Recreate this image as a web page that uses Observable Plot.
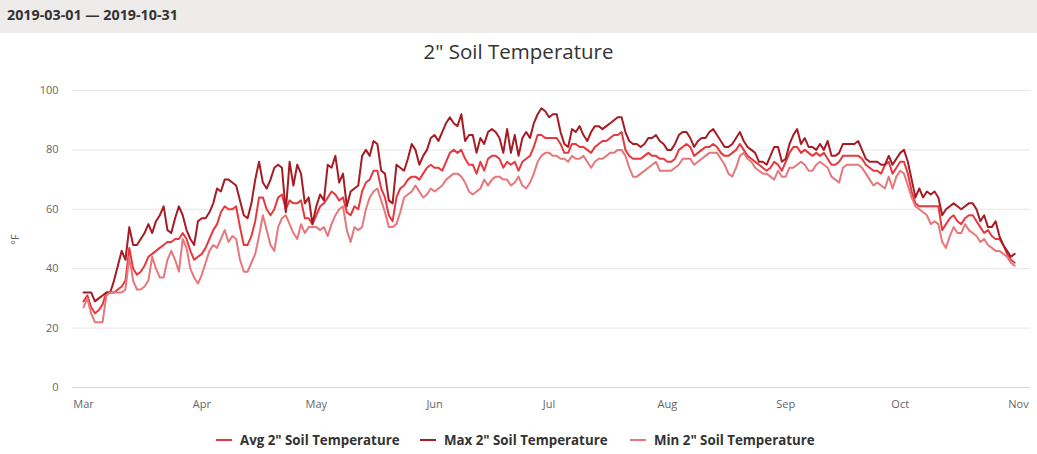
<!DOCTYPE html>
<html><head><meta charset="utf-8">
<script src="https://cdn.jsdelivr.net/npm/d3@7"></script>
<script src="https://cdn.jsdelivr.net/npm/@observablehq/plot@0.6"></script>
<style>
body{margin:0;background:#fff;font-family:"Open Sans",sans-serif;width:1037px;height:454px;overflow:hidden;position:relative}
#hdr{position:absolute;left:0;top:0;width:1037px;height:33px;background:#edecea}
#hdr span{position:absolute;left:7px;top:5px;font-weight:bold;font-size:14.3px;color:#333}
#title{position:absolute;left:0;width:1037px;top:38px;text-align:center;font-size:20.5px;color:#333;line-height:26px}
#chart{position:absolute;left:0;top:70px}
#ylab{position:absolute;left:4px;top:232px;font-size:11px;color:#666;transform:rotate(-90deg);transform-origin:center;width:20px;text-align:center}
#legend{position:absolute;top:430px;left:0;width:1037px;height:20px}
.item{position:absolute;top:0;height:20px;line-height:20px;font-size:13.3px;font-weight:bold;color:#333;white-space:nowrap}
.sym{display:inline-block;width:16px;height:2px;vertical-align:middle;margin-right:8px;position:relative;top:-1px}
</style></head>
<body>
<div id="hdr"><span>2019-03-01 — 2019-10-31</span></div>
<div id="title">2" Soil Temperature</div>
<div id="ylab">°F</div>
<div id="chart"></div>
<div id="legend"></div>
<script>
const startDate = "2019-03-01";
const seriesNames = ['Avg 2" Soil Temperature', 'Max 2" Soil Temperature', 'Min 2" Soil Temperature'];
const seriesColors = ["#e8383d", "#a51c24", "#e6787c"];
const yTicks = [0, 20, 40, 60, 80, 100];
const monthTicks = ["2019-03-01","2019-04-01","2019-05-01","2019-06-01","2019-07-01","2019-08-01","2019-09-01","2019-10-01","2019-11-01"];

const avgTemp = [
29,31,27,25,26,28,32,32,32,33, 34,36,47,40,38,39,41,44,45,46, 47,48,49,49,50,50,52,50,46,43, 44,
45,47,50,53,55,59,61,60,60,61, 54,48,48,51,56,64,64,60,58,60, 64,65,60,63,62,62,63,57,57,55,
58,61,62,64,66,65,63,64,59,58, 61,60,66,69,70,73,73,67,64,58, 56,64,67,68,70,71,71,70,72,74, 75,
74,74,73,76,79,80,79,80,77,75, 75,72,76,73,77,78,78,77,74,76, 75,76,73,76,77,78,81,85,85,84,
84,84,84,82,79,79,82,82,81,81, 80,79,81,82,83,83,84,85,85,86, 80,78,77,77,77,78,79,78,78,77, 77,
76,76,77,80,81,82,81,78,79,80, 81,81,82,81,79,78,78,79,80,82, 80,78,77,76,75,74,73,74,76,75, 73,
76,79,81,81,79,80,79,78,79,78, 79,77,75,75,76,78,78,78,78,78, 77,75,74,73,73,72,75,76,72,74,
76,76,72,66,62,61,61,61,61,61, 61,53,55,57,58,56,55,57,58,58, 56,54,52,53,51,50,50,48,45,43, 42
];
const maxTemp = [
32,32,32,29,30,31,32,32,36,41, 46,43,54,48,48,50,52,55,52,56, 58,61,53,52,57,61,58,53,50,48, 56,
57,57,59,62,67,66,70,70,69,68, 63,58,57,62,70,76,69,67,70,74, 75,74,59,76,68,75,72,62,64,55,
61,65,63,75,74,78,69,72,61,66, 67,68,78,80,78,83,82,73,72,63, 62,75,74,73,77,82,80,75,78,80, 84,
85,83,86,89,91,89,88,92,83,85, 85,79,84,82,86,87,86,84,79,87, 79,85,78,84,86,84,89,92,94,93,
91,92,92,86,82,81,87,86,88,85, 83,86,88,88,87,88,89,90,91,91, 86,83,82,82,81,82,84,84,85,83, 82,
80,80,82,85,86,86,84,81,83,84, 84,86,87,85,83,81,81,82,84,86, 83,81,80,79,76,76,75,78,81,81, 76,
77,82,85,87,82,84,81,81,80,82, 80,83,78,78,79,82,82,82,82,83, 80,77,76,76,76,75,75,78,75,77,
79,80,76,70,64,67,64,66,65,66, 64,58,60,61,62,61,60,61,62,62, 60,56,58,54,54,56,51,48,46,44, 45
];
const minTemp = [
27,30,25,22,22,22,31,32,32,32, 32,33,44,36,33,33,34,36,44,40, 37,37,43,46,43,39,50,47,40,37, 35,
38,42,46,48,47,50,53,49,51,50, 43,39,39,42,45,51,58,53,48,46, 54,57,58,55,52,50,55,52,54,54,
54,53,54,51,55,58,60,61,53,49, 54,53,54,60,64,66,67,63,59,54, 54,55,59,64,65,66,68,66,64,65, 67,
66,67,68,70,71,72,72,71,69,66, 65,66,67,70,68,70,71,71,70,70, 68,69,71,68,67,69,72,76,78,79,
79,78,78,77,77,76,78,77,77,78, 76,74,76,77,77,78,79,79,80,80, 78,74,71,71,72,73,74,75,76,73, 73,
73,73,74,75,77,77,77,75,76,77, 78,79,79,79,77,75,72,71,74,78, 79,77,76,74,73,72,72,71,70,73, 71,
71,74,74,75,76,75,73,73,75,76, 75,74,71,70,69,74,75,75,75,75, 74,72,70,68,69,68,67,71,67,71,
73,72,68,64,61,60,59,58,55,56, 55,49,47,51,54,52,52,55,53,52, 51,49,50,48,47,46,46,45,44,42, 41
];

const start = new Date(startDate + "T00:00:00Z");
const dayDate = i => new Date(start.getTime() + i * 86400000);
const seriesValues = [avgTemp, maxTemp, minTemp];
const rows = [];
seriesValues.forEach((vals, s) => vals.forEach((v, i) => rows.push({date: dayDate(i), value: v, series: seriesNames[s]})));

const chart = Plot.plot({
  width: 1037, height: 350,
  marginLeft: 83, marginRight: 19, marginTop: 20, marginBottom: 33,
  style: {fontFamily: '"Open Sans", sans-serif', fontSize: "11px", color: "#666", background: "transparent"},
  x: {type: "utc", domain: [new Date(monthTicks[0] + "T00:00:00Z"), new Date(monthTicks[monthTicks.length - 1] + "T00:00:00Z")]},
  y: {domain: [0, 100]},
  color: {domain: seriesNames, range: seriesColors},
  marks: [
    Plot.ruleY(yTicks.filter(d => d > 0), {stroke: "#e6e6e6", strokeWidth: 1, insetLeft: -11, insetRight: -12}),
    Plot.ruleY([0], {stroke: "#ccd6eb", strokeWidth: 1, insetLeft: -11, insetRight: -12}),
    Plot.axisY({ticks: yTicks, tickSize: 0, tickPadding: 25, label: null, fontSize: 11}),
    Plot.axisX({ticks: monthTicks.map(d => new Date(d + "T00:00:00Z")), tickFormat: d3.utcFormat("%b"), tickSize: 0, tickPadding: 13, label: null, fontSize: 11}),
    Plot.lineY(rows, {x: "date", y: "value", z: "series", stroke: "series", strokeWidth: 2, curve: "linear"})
  ]
});
document.getElementById("chart").appendChild(chart);

const legend = document.getElementById("legend");
const legendX = [216, 420, 630];
seriesNames.forEach((n, i) => {
  const it = document.createElement("div");
  it.className = "item";
  it.style.left = legendX[i] + "px";
  it.innerHTML = `<span class="sym" style="background:${seriesColors[i]}"></span>`;
  it.appendChild(document.createTextNode(n));
  legend.appendChild(it);
});
</script>
</body></html>
